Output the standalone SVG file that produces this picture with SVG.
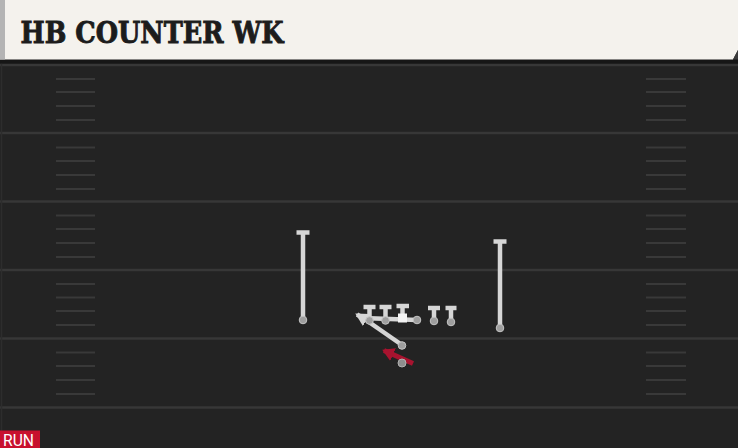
<svg xmlns="http://www.w3.org/2000/svg" width="738" height="448" viewBox="0 0 738 448">
<defs>
<style>
.yard{stroke:#373737;stroke-width:2.5}
.hash{stroke:#393939;stroke-width:2}
.route{stroke:#d6d6d6;stroke-width:4.5;fill:none}
.bar{stroke:#d6d6d6;stroke-width:4.5}
.dot{fill:#9e9e9e;stroke:#c4c4c4;stroke-width:1}
.run{stroke:#a8132f;stroke-width:5;fill:none}
</style>
<marker id="ag" markerUnits="userSpaceOnUse" markerWidth="16" markerHeight="16" refX="11" refY="7" orient="auto">
<path d="M0,0 L13,7 L0,14 Z" fill="#d6d6d6"/>
</marker>
<marker id="ar" markerUnits="userSpaceOnUse" markerWidth="16" markerHeight="16" refX="10" refY="7" orient="auto">
<path d="M0,0 L12,7 L0,14 Z" fill="#a8132f"/>
</marker>
</defs>
<rect x="0" y="0" width="738" height="448" fill="#232323"/>
<g id="field">
<line class="yard" x1="0" y1="65" x2="738" y2="65"/>
<line class="yard" x1="0" y1="133" x2="738" y2="133"/>
<line class="yard" x1="0" y1="201.5" x2="738" y2="201.5"/>
<line class="yard" x1="0" y1="270" x2="738" y2="270"/>
<line class="yard" x1="0" y1="338.5" x2="738" y2="338.5"/>
<line class="yard" x1="0" y1="407.5" x2="738" y2="407.5"/>
<g id="hashes">
<path class="hash" d="M56,79H95M56,92H95M56,106H95M56,120H95M56,147.5H95M56,161H95M56,175H95M56,189H95M56,215.5H95M56,229H95M56,243H95M56,257H95M56,284H95M56,297.5H95M56,311H95M56,325H95M56,352.5H95M56,366H95M56,380H95M56,394H95"/>
<path class="hash" d="M646,79H686M646,92H686M646,106H686M646,120H686M646,147.5H686M646,161H686M646,175H686M646,189H686M646,215.5H686M646,229H686M646,243H686M646,257H686M646,284H686M646,297.5H686M646,311H686M646,325H686M646,352.5H686M646,366H686M646,380H686M646,394H686"/>
</g>
<line x1="1.5" y1="63" x2="1.5" y2="448" stroke="#2d2d2d" stroke-width="1.5"/>
</g>
<g id="header">
<rect x="0" y="59" width="738" height="4.5" fill="#161616"/>
<path d="M0,0 H738 V50 L733,59.5 H0 Z" fill="#f4f2ed"/>
<path d="M738,50 L733,59.5 H738 Z" fill="#3a3a3a"/>
<rect x="0" y="0" width="5" height="59.5" fill="#b4b4b4"/>
<text x="20.5" y="42.5" font-family="'DejaVu Serif', 'Liberation Serif', serif" font-weight="bold" font-size="29" fill="#1c1c1c" stroke="#1c1c1c" stroke-width="0.9" textLength="263" lengthAdjust="spacingAndGlyphs">HB COUNTER WK</text>
</g>
<g id="connectors">
<path class="route" d="M417,320 L363,318 L357,314.5" marker-end="url(#ag)"/>
<path class="route" d="M402,345 L366,320"/>
<path class="run" d="M413,363.5 L384,350.5" marker-end="url(#ar)"/>
</g>
<g id="wr-left">
<line class="bar" x1="303" y1="231" x2="303" y2="320"/>
<line class="bar" x1="296.5" y1="232.5" x2="309.5" y2="232.5"/>
<circle class="dot" cx="303" cy="320" r="3.8"/>
</g>
<g id="wr-right">
<line class="bar" x1="500" y1="240" x2="500" y2="328"/>
<line class="bar" x1="493.5" y1="241.5" x2="506.5" y2="241.5"/>
<circle class="dot" cx="500" cy="328" r="3.8"/>
</g>
<g id="lt">
<line class="bar" x1="369.5" y1="306" x2="369.5" y2="320"/>
<line class="bar" x1="363.5" y1="307" x2="375.5" y2="307"/>
<circle class="dot" cx="369.5" cy="320.5" r="3.8"/>
</g>
<g id="lg">
<line class="bar" x1="385.5" y1="306" x2="385.5" y2="320"/>
<line class="bar" x1="379.5" y1="307" x2="391.5" y2="307"/>
<circle class="dot" cx="385.5" cy="320.5" r="3.8"/>
</g>
<g id="c">
<line class="bar" x1="402.5" y1="305" x2="402.5" y2="316"/>
<line class="bar" x1="396.5" y1="306" x2="409" y2="306"/>
<rect x="398" y="313.5" width="9" height="9" fill="#f2f2f2"/>
</g>
<g id="rg">
<circle class="dot" cx="417" cy="320" r="3.8"/>
</g>
<g id="rt">
<line class="bar" x1="434" y1="307" x2="434" y2="320"/>
<line class="bar" x1="428" y1="308" x2="440" y2="308"/>
<circle class="dot" cx="434" cy="321" r="3.8"/>
</g>
<g id="te">
<line class="bar" x1="451" y1="307" x2="451" y2="321"/>
<line class="bar" x1="445.5" y1="308" x2="456.5" y2="308"/>
<circle class="dot" cx="451" cy="322" r="3.8"/>
</g>
<g id="qb">
<circle class="dot" cx="402" cy="345.5" r="3.8"/>
</g>
<g id="hb">
<circle cx="402" cy="363" r="4" fill="#8e8e8e" stroke="#b0b0b0" stroke-width="1"/>
</g>
<g id="tag">
<rect x="0" y="430.5" width="40" height="17.5" fill="#c8102e"/>
<text x="3" y="445.5" font-family="Roboto, 'Liberation Sans', sans-serif" font-size="17" fill="#ffffff" textLength="31" lengthAdjust="spacingAndGlyphs">RUN</text>
</g>
</svg>
